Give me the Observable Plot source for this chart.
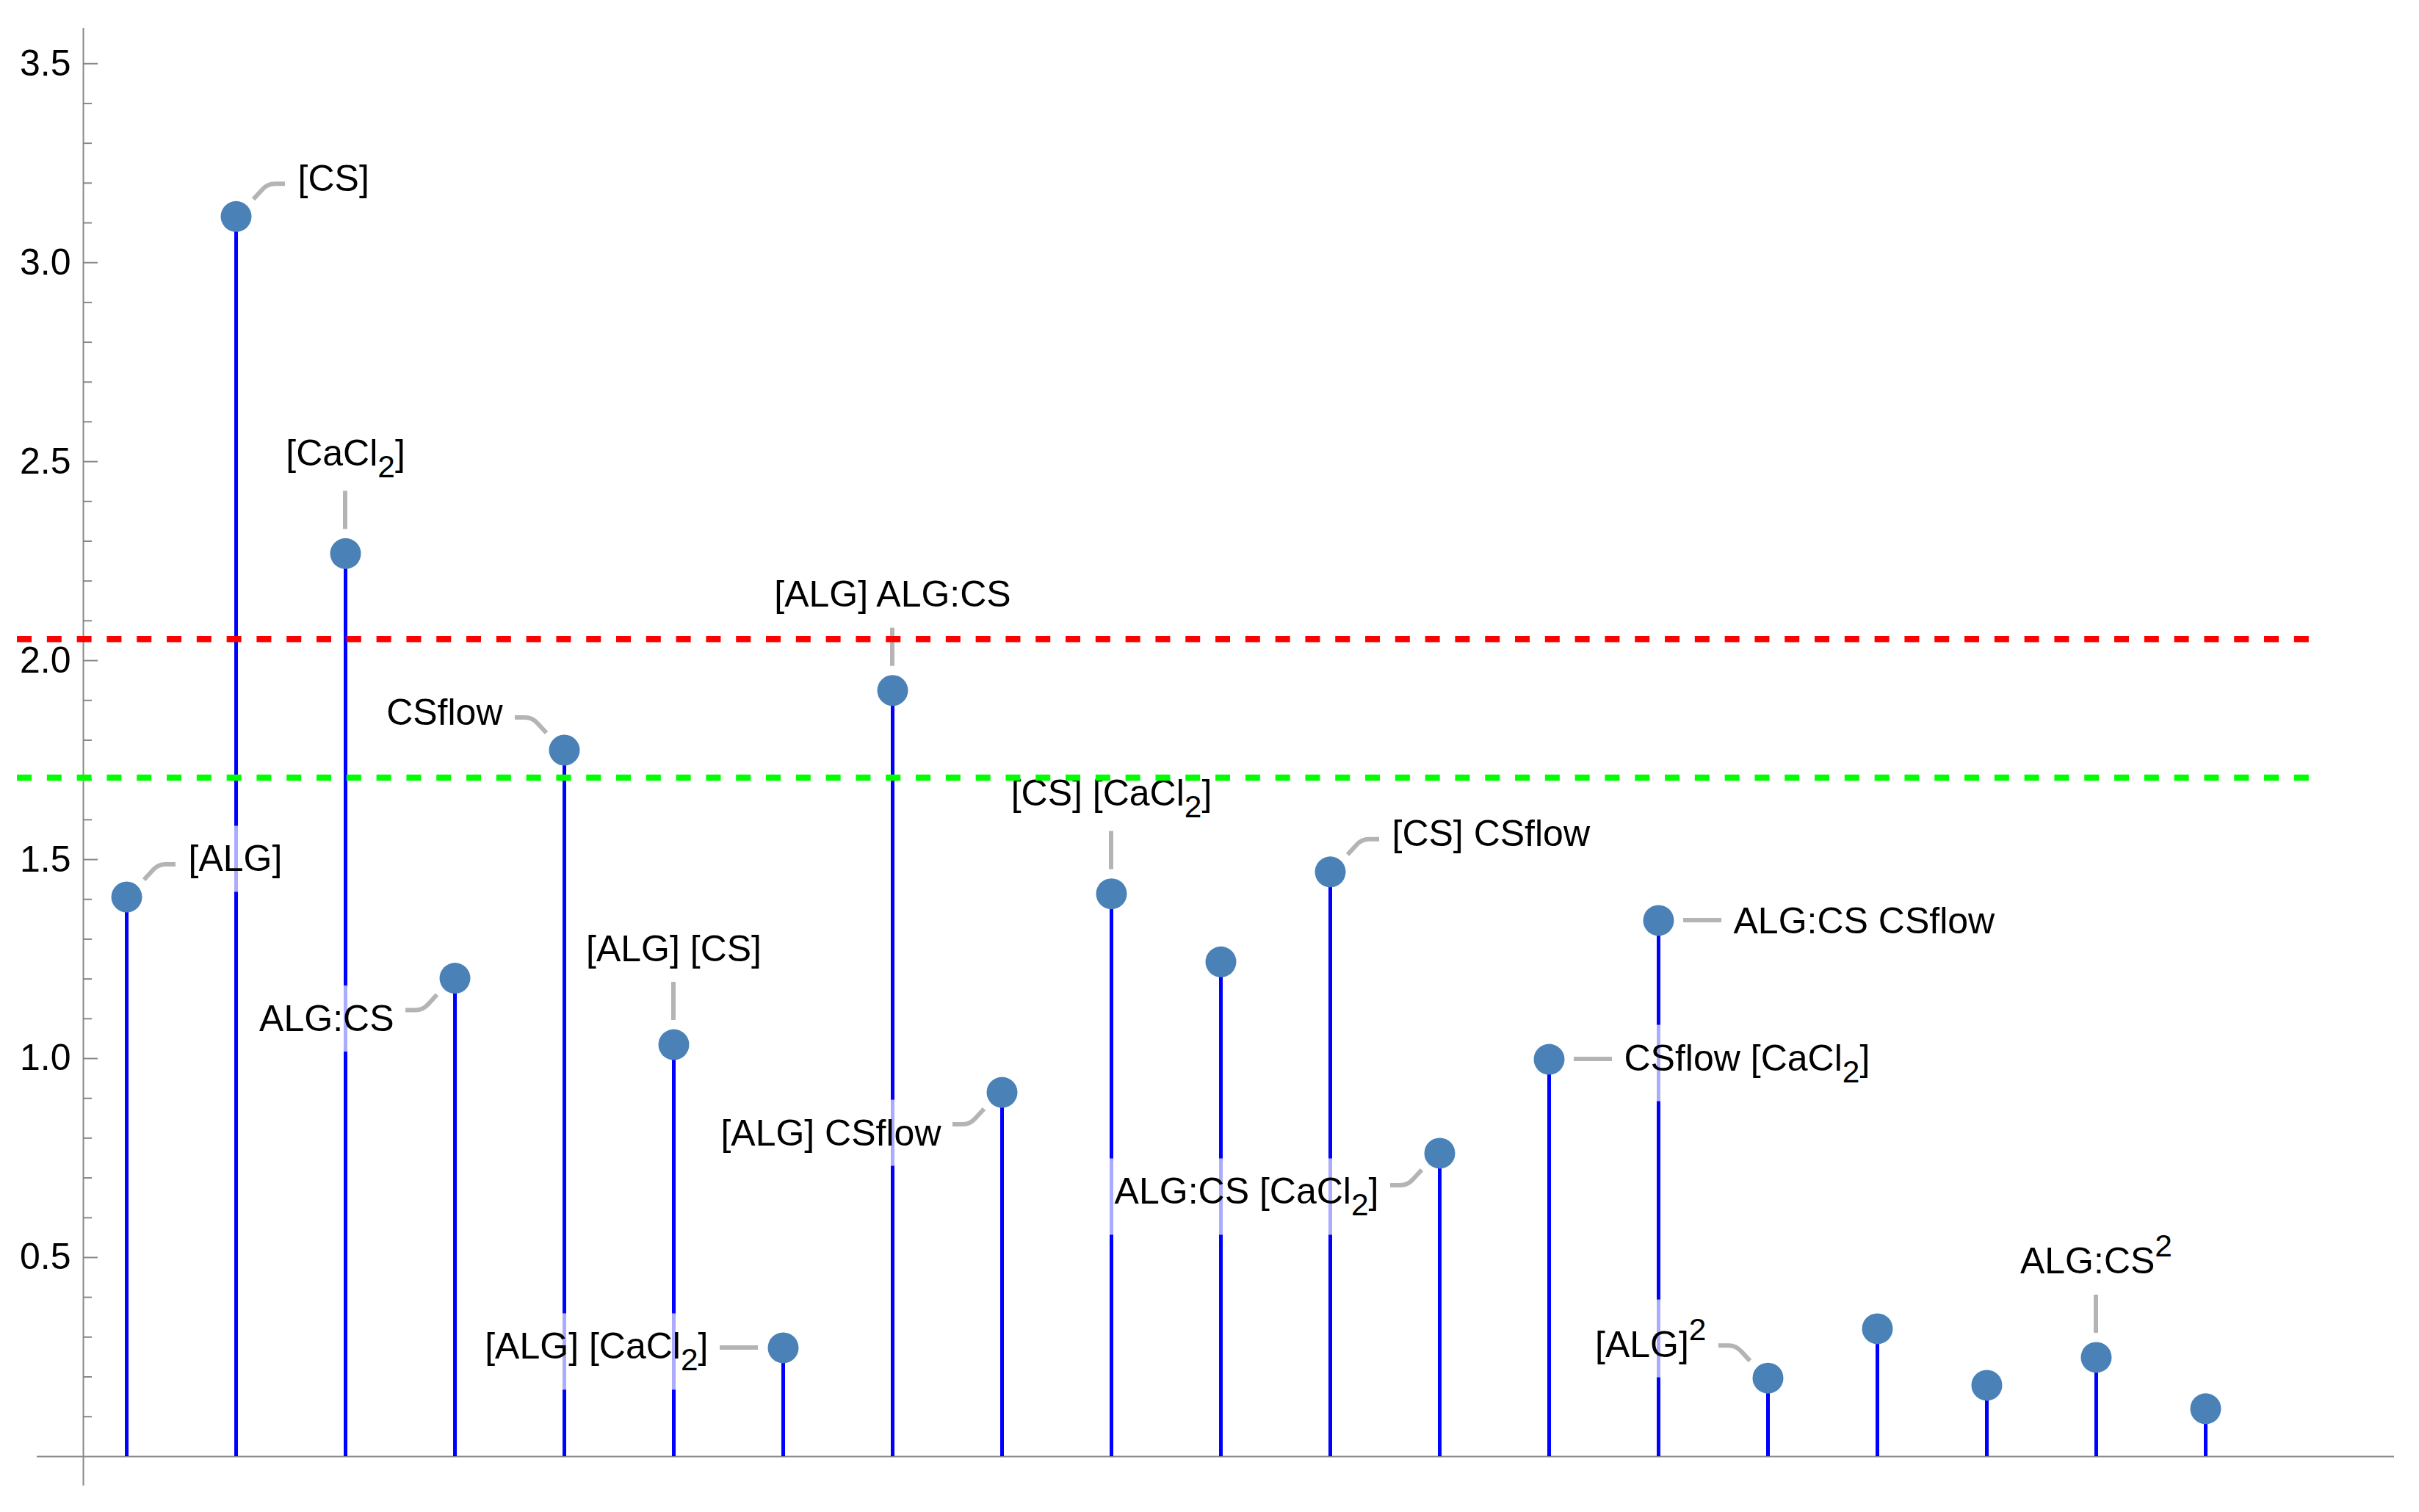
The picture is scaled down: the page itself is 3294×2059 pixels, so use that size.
<!DOCTYPE html>
<html>
<head>
<meta charset="utf-8">
<script src="https://cdn.jsdelivr.net/npm/d3@7"></script>
<script src="https://cdn.jsdelivr.net/npm/@observablehq/plot@0.6"></script>
<style>
  html, body { margin: 0; padding: 0; background: #fff; }
  svg { display: block; }
</style>
</head>
<body>
<div id="chart"></div>
<script>
// ---------- data ----------
const terms = [
  "[ALG]", "[CS]", "[CaCl₂]", "ALG:CS", "CSflow",
  "[ALG] [CS]", "[ALG] [CaCl₂]", "[ALG] ALG:CS", "[ALG] CSflow", "[CS] [CaCl₂]",
  "", "[CS] CSflow", "ALG:CS [CaCl₂]", "CSflow [CaCl₂]", "ALG:CS CSflow",
  "[ALG]²", "", "", "ALG:CS²", ""
];
const effects = [
  1.406, 3.116, 2.269, 1.202, 1.775,
  1.035, 0.273, 1.925, 0.915, 1.414,
  1.243, 1.469, 0.762, 0.998, 1.347,
  0.197, 0.321, 0.179, 0.249, 0.120
];
const placements = [
  "NE", "NE", "N", "SW", "NW",
  "N", "W", "N", "SW", "N",
  "", "NE", "SW", "E", "E",
  "NW", "", "", "N", ""
];
const redLevel = 2.054;
const greenLevel = 1.706;
const majorTicks = [0.5, 1.0, 1.5, 2.0, 2.5, 3.0, 3.5];
const minorTicks = d3.range(1, 35).filter(k => k % 5 !== 0).map(k => k / 10);

// ---------- layout ----------
const W = 3294, H = 2059;
const ml = 50, mr = 34, mt = 38, mb = 36;
const xDomain = [0.181, 21.725];
const yDomain = [-0.074, 3.589];
const yAxisAt = 0.604;
const pxToX = px => px * (xDomain[1] - xDomain[0]) / (W - ml - mr);

const data = effects.map((v, k) => ({i: k + 1, v, term: terms[k], pos: placements[k]}));
const labeled = data.filter(d => d.term);

const FONT = 50;
function labelStyle(d) {
  const sub = d.term.includes("₂"), sup = d.term.includes("²");
  const base = {
    N:  {textAnchor: "middle", dx: 0,    dy: -130},
    NE: {textAnchor: "start",  dx: 84,   dy: -51},
    NW: {textAnchor: "end",    dx: -84,  dy: -51},
    E:  {textAnchor: "start",  dx: 102,  dy: 2},
    W:  {textAnchor: "end",    dx: -102, dy: 2},
    SW: {textAnchor: "end",    dx: -83,  dy: 56}
  }[d.pos];
  let dy = base.dy;
  if (d.pos === "N") { if (sub) dy -= 6; }
  else { if (sub) dy -= 3; if (sup) dy += 6; }
  return {...base, dy};
}

function calloutPath(pos, cx, cy) {
  const seg = {
    N:  "M0,-33L0,-85",
    E:  "M34,0L86,0",
    W:  "M-34,0L-86,0",
    NE: "M24,-23L36,-36Q43,-44 53,-44L67,-44",
    NW: "M-24,-23L-36,-36Q-43,-44 -53,-44L-67,-44",
    SW: "M-24,23L-36,36Q-43,44 -53,44L-67,44"
  }[pos];
  return {d: seg, t: `translate(${cx},${cy})`};
}

function callouts(index, scales) {
  const g = d3.create("svg:g")
    .attr("fill", "none")
    .attr("stroke", "#b4b4b4")
    .attr("stroke-width", 6);
  for (const d of labeled) {
    const p = calloutPath(d.pos, scales.x(d.i), scales.y(d.v));
    g.append("path").attr("d", p.d).attr("transform", p.t);
  }
  return g.node();
}

const labelMarks = labeled.map(d => Plot.text([d], {
  x: "i", y: "v", text: "term",
  ...labelStyle(d),
  fontSize: FONT,
  lineAnchor: "middle",
  fill: "black"
}));

const svg = Plot.plot({
  width: W,
  height: H,
  marginLeft: ml, marginRight: mr, marginTop: mt, marginBottom: mb,
  style: {fontFamily: "'Liberation Sans', Arial, sans-serif", fontSize: "50px", background: "white"},
  x: {domain: xDomain, axis: null},
  y: {domain: yDomain, axis: null},
  marks: [
    Plot.ruleY([0], {stroke: "#888", strokeWidth: 2}),
    Plot.ruleX([yAxisAt], {stroke: "#888", strokeWidth: 2}),
    Plot.ruleY(minorTicks, {x1: yAxisAt, x2: yAxisAt + pxToX(12), stroke: "#888", strokeWidth: 2}),
    Plot.ruleY(majorTicks, {x1: yAxisAt, x2: yAxisAt + pxToX(20), stroke: "#888", strokeWidth: 2}),
    Plot.axisY({ticks: majorTicks, anchor: "left", tickSize: 0, tickPadding: 17, dx: 63,
                tickFormat: d3.format(".1f"), label: null, fontSize: FONT, fill: "black"}),
    Plot.ruleX(data, {x: "i", y1: 0, y2: "v", stroke: "#0000ff", strokeWidth: 5}),
    ...labelMarks,
    callouts,
    Plot.ruleY([redLevel], {x1: 0, x2: 21, stroke: "#ff0000", strokeWidth: 8.5, strokeDasharray: "20,20.8"}),
    Plot.ruleY([greenLevel], {x1: 0, x2: 21, stroke: "#00ff00", strokeWidth: 8.5, strokeDasharray: "20,20.8"}),
    Plot.dot(data, {x: "i", y: "v", r: 21, fill: "#4a82b8", stroke: "none"})
  ]
});
document.getElementById("chart").append(svg);

// sub/superscripts as tspans, plus the translucent label backgrounds
const NS = "http://www.w3.org/2000/svg";
const labelSet = new Set(labeled.map(d => d.term));
svg.querySelectorAll("text").forEach(t => {
  if (t.closest('[aria-label^="y-axis"]')) return;
  const s = t.textContent;
  if (!labelSet.has(s)) return;
  if (/[₂²]/.test(s)) {
    while (t.firstChild) t.removeChild(t.firstChild);
    let shift = 0;
    for (const part of s.split(/([₂²])/)) {
      if (!part) continue;
      const ts = document.createElementNS(NS, "tspan");
      if (part === "₂" || part === "²") {
        const target = part === "₂" ? 16 : -23;
        ts.textContent = "2";
        ts.setAttribute("font-size", FONT * 0.85);
        ts.setAttribute("dy", target - shift);
        shift = target;
      } else {
        ts.textContent = part;
        if (shift) ts.setAttribute("dy", -shift);
        shift = 0;
      }
      t.append(ts);
    }
  }
  const bb = t.getBBox();
  const pad = 17;
  const r = document.createElementNS(NS, "rect");
  r.setAttribute("x", bb.x - pad);
  r.setAttribute("y", bb.y - pad);
  r.setAttribute("width", bb.width + 2 * pad);
  r.setAttribute("height", bb.height + 2 * pad);
  r.setAttribute("fill", "white");
  r.setAttribute("fill-opacity", 0.67);
  const tr = t.getAttribute("transform");
  if (tr) r.setAttribute("transform", tr);
  t.parentNode.insertBefore(r, t);
});
</script>
</body>
</html>
